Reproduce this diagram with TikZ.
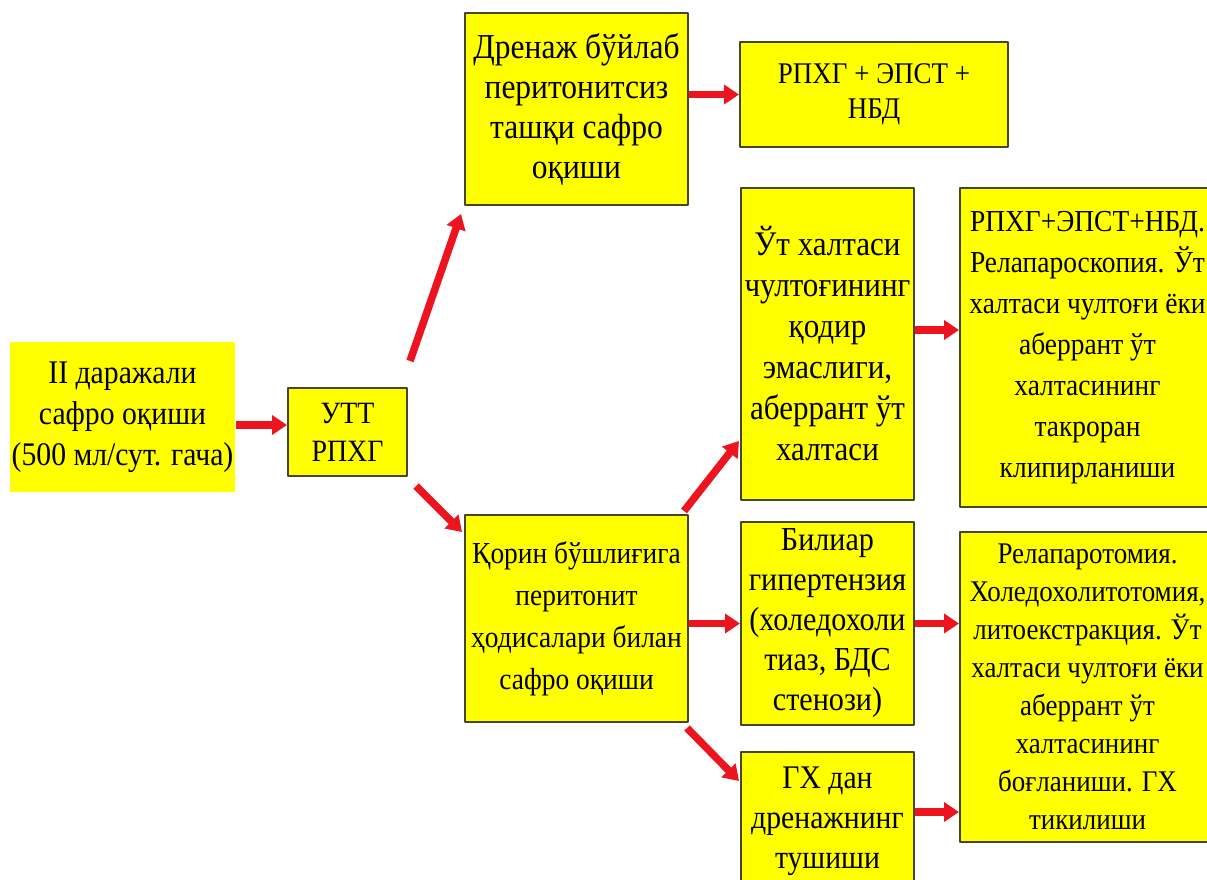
\documentclass[tikz,border=0pt]{standalone}
\usepackage{fontspec}
\setmainfont{Liberation Serif}[FakeStretch=0.9]
\usetikzlibrary{arrows.meta}
\definecolor{boxyellow}{RGB}{255,255,0}
\definecolor{boxline}{RGB}{70,70,40}
\definecolor{arrred}{RGB}{236,20,30}
\newcommand{\fs}[2]{\fontsize{#1}{#2}\selectfont}
\begin{document}
\begin{tikzpicture}[x=1pt,y=-1pt,line join=round,
	box/.style={fill=boxyellow,draw=boxline,line width=2pt,inner sep=0pt,align=center},
	arr/.style={draw=arrred,line width=7.5pt,-{Triangle[length=15pt,width=19pt]}}]
	\useasboundingbox (0,0) rectangle (1207,879);
	\clip (0,0) rectangle (1207,879);
	% first column
	\node (start) at (122.5,417) [box,draw=none,minimum width=225,minimum height=150,font=\fs{33}{41}]{II даражали\\сафро оқиши\\(500 мл/сут. гача)};
	\node (utt) at (347.5,432) [box,minimum width=119,minimum height=88,font=\fs{31}{38}]{УТТ\\РПХГ};
	% second column
	\node (drenaj) at (576.5,109) [box,minimum width=223,minimum height=192,font=\fs{35}{40}]{Дренаж бўйлаб\\перитонитсиз\\ташқи сафро\\оқиши};
	\node (qorin) at (576.5,618.5) [box,minimum width=223,minimum height=207,font=\fs{30.5}{42}]{Қорин бўшлиғига\\перитонит\\ҳодисалари билан\\сафро оқиши};
	% third column
	\node (rpxg) at (874,94.5) [box,minimum width=268,minimum height=105,font=\fs{30}{35}]{РПХГ + ЭПСТ +\\НБД};
	\node (utx) at (827.5,344) [box,minimum width=173,minimum height=312,font=\fs{34.5}{41}]{Ўт халтаси\\чултоғининг\\қодир\\эмаслиги,\\аберрант ўт\\халтаси};
	\node (biliar) at (827.5,623.5) [box,minimum width=173,minimum height=203,font=\fs{33.5}{40}]{Билиар\\гипертензия\\(холедохоли\\тиаз, БДС\\стенози)};
	\node (gx) at (827.5,821) [box,minimum width=173,minimum height=138,font=\fs{33}{40}]{ГХ дан\\дренажнинг\\тушиши};
	% last column
	\node (relaps) at (1087.5,347.5) [box,minimum width=255,minimum height=319,font=\fs{30.5}{41}]{РПХГ+ЭПСТ+НБД.\\Релапароскопия. Ўт\\халтаси чултоғи ёки\\аберрант ўт\\халтасининг\\такроран\\клипирланиши};
	\node (relapt) at (1087.5,687) [box,minimum width=255,minimum height=310,font=\fs{30}{38}]{Релапаротомия.\\Холедохолитотомия,\\литоекстракция. Ўт\\халтаси чултоғи ёки\\аберрант ўт\\халтасининг\\боғланиши. ГХ\\тикилиши};

	\draw[arr] ([yshift=7]start.east |- utt.west) -- ([yshift=7]utt.west);
	\draw[arr] ([shift={(2,-26)}]utt.north east) -- ([shift={(-3,8)}]drenaj.south west);
	\draw[arr] ([shift={(8,9)}]utt.south east) -- ([shift={(-2,18)}]qorin.north west);
	\draw[arr] (drenaj.east |- rpxg.west) -- (rpxg.west);
	\draw[arr] ([shift={(-5,-3)}]qorin.north east) -- ([shift={(-1,-60)}]utx.south west);
	\draw[arr] (qorin.east |- biliar.west) -- (biliar.west);
	\draw[arr] ([shift={(-2,5)}]qorin.south east) -- ([shift={(-1,30)}]gx.north west);
	\draw[arr] ([yshift=14]utx.east) -- ([yshift=14]utx.east -| relaps.west);
	\draw[arr] (biliar.east) -- (biliar.east -| relapt.west);
	\draw[arr] ([yshift=9]gx.east) -- ([yshift=9]gx.east -| relapt.west);
\end{tikzpicture}
\end{document}
